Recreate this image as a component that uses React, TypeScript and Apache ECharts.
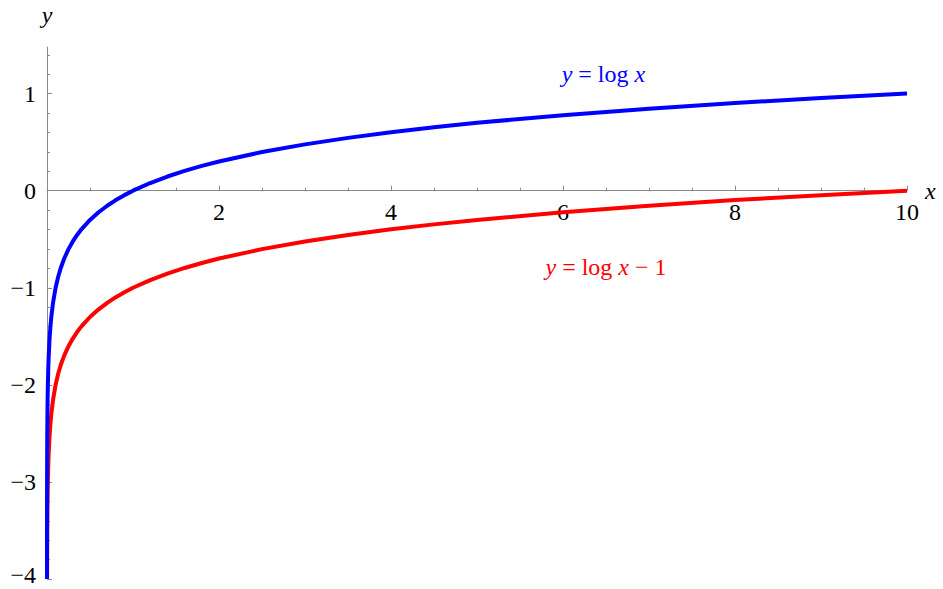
import React, { useEffect, useRef } from "react";
import * as echarts from "echarts";

// Sample points
const blueX = [0.0001, 0.0002, 0.0003, 0.0005, 0.0007, 0.001, 0.0015, 0.002, 0.003, 0.005, 0.007, 0.01, 0.015, 0.02, 0.03, 0.04, 0.05, 0.07, 0.1, 0.13, 0.16, 0.2, 0.25, 0.3, 0.35, 0.4, 0.5, 0.6, 0.7, 0.8, 0.9, 1, 1.2, 1.4, 1.6, 1.8, 2, 2.5, 3, 3.5, 4, 4.5, 5, 6, 7, 8, 9, 10];
const blueY = [-4, -3.699, -3.523, -3.301, -3.155, -3, -2.824, -2.699, -2.523, -2.301, -2.155, -2, -1.824, -1.699, -1.523, -1.398, -1.301, -1.155, -1, -0.886, -0.796, -0.699, -0.602, -0.523, -0.456, -0.398, -0.301, -0.222, -0.155, -0.097, -0.046, 0, 0.079, 0.146, 0.204, 0.255, 0.301, 0.398, 0.477, 0.544, 0.602, 0.653, 0.699, 0.778, 0.845, 0.903, 0.954, 1];
const redX = [0.001, 0.0015, 0.002, 0.003, 0.005, 0.007, 0.01, 0.015, 0.02, 0.03, 0.04, 0.05, 0.07, 0.1, 0.13, 0.16, 0.2, 0.25, 0.3, 0.35, 0.4, 0.5, 0.6, 0.7, 0.8, 0.9, 1, 1.2, 1.4, 1.6, 1.8, 2, 2.5, 3, 3.5, 4, 4.5, 5, 6, 7, 8, 9, 10];
const redY = [-4, -3.824, -3.699, -3.523, -3.301, -3.155, -3, -2.824, -2.699, -2.523, -2.398, -2.301, -2.155, -2, -1.886, -1.796, -1.699, -1.602, -1.523, -1.456, -1.398, -1.301, -1.222, -1.155, -1.097, -1.046, -1, -0.921, -0.854, -0.796, -0.745, -0.699, -0.602, -0.523, -0.456, -0.398, -0.347, -0.301, -0.222, -0.155, -0.097, -0.046, 0];

const xTickLabels = [2, 4, 6, 8, 10];
const yMajorTicks = [-4, -3, -2, -1, 0, 1];
const yMinorTicks = [-3.8, -3.6, -3.4, -3.2, -2.8, -2.6, -2.4, -2.2, -1.8, -1.6, -1.4, -1.2, -0.8, -0.6, -0.4, -0.2, 0.2, 0.4, 0.6, 0.8, 1.2, 1.4];

const blueLabelPos = [6.47, 1.2];
const redLabelPos = [6.5, -0.79];

const FONT = "'Liberation Serif', 'Times New Roman', serif";
const AXIS_COLOR = "#8a8a8a";

export default function App() {
  const ref = useRef<HTMLDivElement>(null);
  useEffect(() => {
    if (!ref.current) return;
    const chart = echarts.init(ref.current, null, { renderer: "svg" });
    const fmtNum = (v: number) => String(v).replace("-", "\u2212");
    const italic = { fontStyle: "italic", fontFamily: FONT, fontSize: 24 };
    chart.setOption({
      animation: false,
      grid: { left: 47, right: 36, top: 47, bottom: 10, containLabel: false, outerBoundsMode: "none" },
      xAxis: {
        type: "value",
        min: 0,
        max: 10,
        interval: 2,
        position: "bottom",
        name: "x",
        nameLocation: "end",
        nameGap: 16,
        nameTextStyle: { ...italic, color: "#000", verticalAlign: "middle" },
        axisLine: { onZero: false, lineStyle: { color: AXIS_COLOR, width: 1 } },
        axisTick: { inside: true, length: 5, lineStyle: { color: AXIS_COLOR } },
        minorTick: { show: true, splitNumber: 4, length: 3, lineStyle: { color: AXIS_COLOR } },
        axisLabel: {
          customValues: xTickLabels,
          color: "#000",
          fontFamily: FONT,
          fontSize: 24,
          margin: 9,
          formatter: (v: number) => fmtNum(v),
        },
        splitLine: { show: false },
      },
      yAxis: [
        {
          type: "value",
          min: -4,
          max: 1.48,
          name: "y",
          nameLocation: "end",
          nameGap: 20,
          nameTextStyle: { ...italic, color: "#000", align: "center" },
          axisLine: { show: true, onZero: false, lineStyle: { color: AXIS_COLOR, width: 1 } },
          axisTick: { show: true, inside: true, length: 5, customValues: yMajorTicks, lineStyle: { color: AXIS_COLOR } },
          axisLabel: {
            customValues: yMajorTicks,
            color: "#000",
            fontFamily: FONT,
            fontSize: 24,
            lineHeight: 18,
            margin: 11,
            formatter: (v: number) => (v === -4 ? "{low|" + fmtNum(v) + "}" : fmtNum(v)),
            rich: {
              low: { fontFamily: FONT, fontSize: 24, lineHeight: 18, color: "#000", padding: [0, 0, 9, 0] },
            },
          },
          splitLine: { show: false },
        },
        {
          type: "value",
          min: -4,
          max: 1.48,
          position: "left",
          axisLine: { show: false, onZero: false },
          axisTick: { show: true, inside: true, length: 3, customValues: yMinorTicks, lineStyle: { color: AXIS_COLOR } },
          axisLabel: { show: false },
          splitLine: { show: false },
        },
      ],
      series: [
        {
          type: "line",
          data: redX.map((x, i) => [x, redY[i]]),
          showSymbol: false,
          symbol: "none",
          lineStyle: { color: "#ff0000", width: 4 },
          z: 2,
          markPoint: {
            symbol: "circle",
            symbolSize: 0,
            itemStyle: { color: "transparent" },
            label: {
              show: true,
              position: "inside",
              color: "#ff0000",
              fontFamily: FONT,
              fontSize: 24,
              formatter: "{i|y} = log {i|x} \u2212 1",
              rich: { i: { ...italic, color: "#ff0000" } },
            },
            data: [{ coord: redLabelPos }],
          },
        },
        {
          type: "line",
          data: blueX.map((x, i) => [x, blueY[i]]),
          showSymbol: false,
          symbol: "none",
          lineStyle: { color: "#0000ff", width: 4 },
          z: 3,
          markPoint: {
            symbol: "circle",
            symbolSize: 0,
            itemStyle: { color: "transparent" },
            label: {
              show: true,
              position: "inside",
              color: "#0000ff",
              fontFamily: FONT,
              fontSize: 24,
              formatter: "{i|y} = log {i|x}",
              rich: { i: { ...italic, color: "#0000ff" } },
            },
            data: [{ coord: blueLabelPos }],
          },
        },
      ],
    });
    // Place the x axis at y = 0 using the y axis' own scale
    const zeroPx = chart.convertToPixel({ yAxisIndex: 0 }, 0) as number;
    const bottomPx = chart.convertToPixel({ yAxisIndex: 0 }, -4) as number;
    chart.setOption({ xAxis: { offset: -(bottomPx - zeroPx) } });
    return () => chart.dispose();
  }, []);
  return (
    <div
      ref={ref}
      style={{ position: "absolute", left: 0, top: 0, width: 943, height: 589, background: "#fff" }}
    />
  );
}
